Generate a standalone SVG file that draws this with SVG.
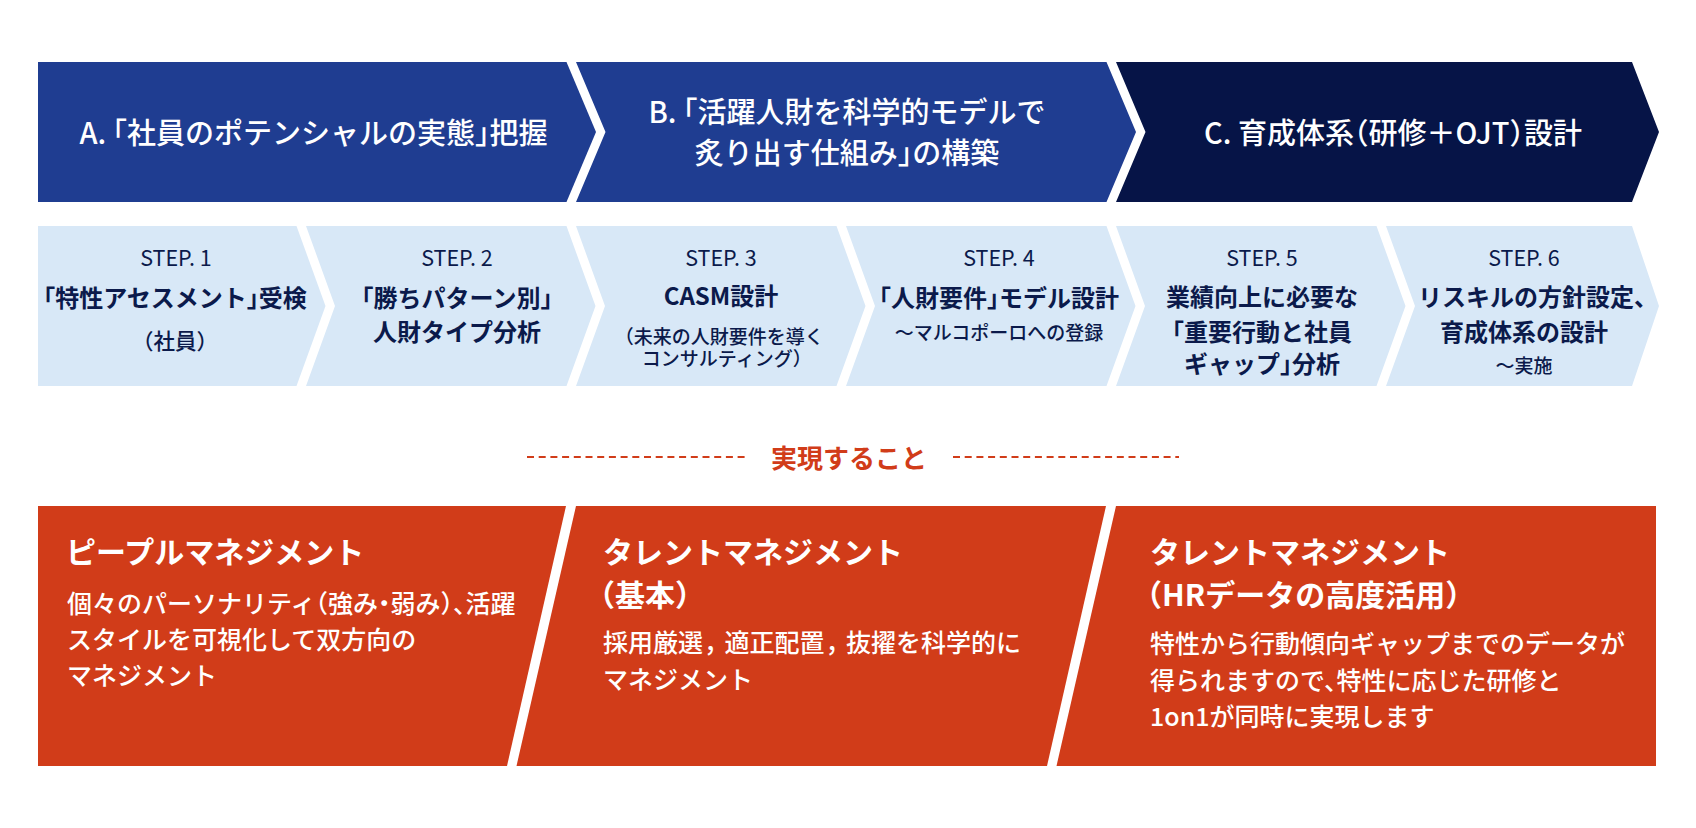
<svg xmlns="http://www.w3.org/2000/svg" width="1696" height="828" viewBox="0 0 1696 828">
<style>
text { font-family: "Noto Sans CJK JP", "Noto Sans", sans-serif; font-feature-settings: "halt" 1; }
.phase { fill: #ffffff; font-size: 29px; font-weight: 500; text-anchor: middle; }
.stepno { fill: #0b1a4b; font-size: 21.5px; font-weight: 400; text-anchor: middle; }
.stepmain { fill: #0b1a4b; font-size: 24px; font-weight: 700; text-anchor: middle; }
.stepsub { fill: #0b1a4b; font-size: 19px; font-weight: 500; text-anchor: middle; }
.stepsub.lg { font-size: 21.5px; }
.ttl { fill: #ffffff; font-size: 30px; font-weight: 700; }
.body { fill: #ffffff; font-size: 25px; font-weight: 500; }
.blue { fill: #1f3d91; }
.navy { fill: #061447; }
.light { fill: #d8e8f7; }
.red { fill: #d13c19; }
</style>
<rect width="1696" height="828" fill="#ffffff"/>

<g id="phase-a">
  <polygon class="blue" points="38,62 566.5,62 596,132 566.5,202 38,202"/>
  <text class="phase" x="313.5" y="144">A. 「社員のポテンシャルの実態」把握</text>
</g>
<g id="phase-b">
  <polygon class="blue" points="576,62 1106.5,62 1136,132 1106.5,202 576,202 605.5,132"/>
  <text class="phase" x="847" y="122.5">B. 「活躍人財を科学的モデルで</text>
  <text class="phase" x="847" y="163.5">炙り出す仕組み」の構築</text>
</g>
<g id="phase-c">
  <polygon class="navy" points="1116,62 1632,62 1659,132 1632,202 1116,202 1145.5,132"/>
  <text class="phase" x="1393" y="144">C. 育成体系（研修＋OJT）設計</text>
</g>

<g id="step-1">
  <polygon class="light" points="38,226 296.5,226 325.5,306 296.5,386 38,386"/>
  <text class="stepno" x="176" y="266">STEP. 1</text>
  <text class="stepmain" x="175" y="306.5">「特性アセスメント」受検</text>
  <text class="stepsub lg" x="175" y="348.5">（社員）</text>
</g>
<g id="step-2">
  <polygon class="light" points="306,226 566.5,226 595.5,306 566.5,386 306,386 335,306"/>
  <text class="stepno" x="457" y="266">STEP. 2</text>
  <text class="stepmain" x="457" y="306.5">「勝ちパターン別」</text>
  <text class="stepmain" x="457" y="341">人財タイプ分析</text>
</g>
<g id="step-3">
  <polygon class="light" points="576,226 836.5,226 865.5,306 836.5,386 576,386 605,306"/>
  <text class="stepno" x="721" y="266">STEP. 3</text>
  <text class="stepmain" x="721" y="305">CASM設計</text>
  <text class="stepsub" x="724" y="343.5">（未来の人財要件を導く</text>
  <text class="stepsub" x="722" y="366">コンサルティング）</text>
</g>
<g id="step-4">
  <polygon class="light" points="846,226 1106.5,226 1135.5,306 1106.5,386 846,386 875,306"/>
  <text class="stepno" x="999" y="266">STEP. 4</text>
  <text class="stepmain" x="999" y="306.5">「人財要件」モデル設計</text>
  <text class="stepsub" x="999" y="340">〜マルコポーロへの登録</text>
</g>
<g id="step-5">
  <polygon class="light" points="1116,226 1376.5,226 1405.5,306 1376.5,386 1116,386 1145,306"/>
  <text class="stepno" x="1262" y="266">STEP. 5</text>
  <text class="stepmain" x="1262" y="306">業績向上に必要な</text>
  <text class="stepmain" x="1262" y="340.5">「重要行動と社員</text>
  <text class="stepmain" x="1262" y="372.5">ギャップ」分析</text>
</g>
<g id="step-6">
  <polygon class="light" points="1386,226 1632,226 1659,306 1632,386 1386,386 1415,306"/>
  <text class="stepno" x="1524" y="266">STEP. 6</text>
  <text class="stepmain" x="1532" y="306">リスキルの方針設定、</text>
  <text class="stepmain" x="1524" y="341">育成体系の設計</text>
  <text class="stepsub" x="1524" y="372.5">〜実施</text>
</g>

<g id="divider">
  <line x1="527" y1="457" x2="749" y2="457" stroke="#d13c19" stroke-width="2" stroke-dasharray="7 4.7"/>
  <line x1="953" y1="457" x2="1179" y2="457" stroke="#d13c19" stroke-width="2" stroke-dasharray="7 4.7"/>
  <text x="849" y="467.5" fill="#d13c19" font-size="26" font-weight="700" text-anchor="middle">実現すること</text>
</g>

<g id="result-1">
  <polygon class="red" points="38,506 566,506 507,766 38,766"/>
  <text class="ttl" x="66" y="563">ピープルマネジメント</text>
  <text class="body" x="67" y="612.5">個々のパーソナリティ（強み・弱み）、活躍</text>
  <text class="body" x="67" y="648.5">スタイルを可視化して双方向の</text>
  <text class="body" x="67" y="684.5">マネジメント</text>
</g>
<g id="result-2">
  <polygon class="red" points="576,506 1106,506 1047,766 516.5,766"/>
  <text class="ttl" x="603" y="563">タレントマネジメント</text>
  <text class="ttl" x="600" y="605.5">（基本）</text>
  <text class="body" x="603" y="652">採用厳選<tspan dx="1">，</tspan><tspan dx="8">適正配置</tspan><tspan dx="1">，</tspan><tspan dx="8">抜擢を科学的に</tspan></text>
  <text class="body" x="603" y="688.5">マネジメント</text>
</g>
<g id="result-3">
  <polygon class="red" points="1116,506 1656,506 1656,766 1056.5,766"/>
  <text class="ttl" x="1150" y="563">タレントマネジメント</text>
  <text class="ttl" x="1147" y="605.5">（HRデータの高度活用）</text>
  <text class="body" x="1150" y="652.5">特性から行動傾向ギャップまでのデータが</text>
  <text class="body" x="1150" y="689.5">得られますので、特性に応じた研修と</text>
  <text class="body" x="1150" y="725.5">1on1が同時に実現します</text>
</g>
</svg>
